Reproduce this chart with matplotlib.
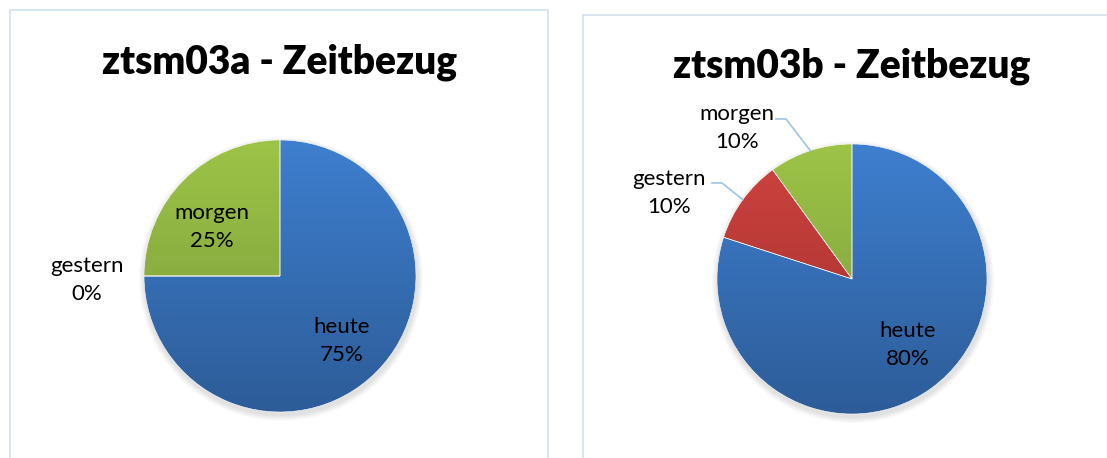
import numpy as np
import matplotlib.pyplot as plt
from matplotlib.patches import Rectangle, Circle
from matplotlib.colors import LinearSegmentedColormap

# data
categories = ['heute', 'gestern', 'morgen']
values_a = [75, 0, 25]
values_b = [80, 10, 10]
titles = ['ztsm03a - Zeitbezug', 'ztsm03b - Zeitbezug']

# colours (top, bottom) for the gradient fill
grad = {
    'heute': ('#3e7fcf', '#2d5c98'),
    'gestern': ('#d0433f', '#9c2f2d'),
    'morgen': ('#9dc447', '#77973a'),
}
leader_col = '#9dc3e6'

plt.rcParams['font.family'] = ['Lato', 'DejaVu Sans']

W, H = 1107, 458
fig = plt.figure(figsize=(W / 100, H / 100), dpi=100)
ax = fig.add_axes([0, 0, 1, 1])
ax.set_xlim(0, W)
ax.set_ylim(0, H)
ax.set_aspect('equal')
ax.axis('off')

# chart frames
ax.add_patch(Rectangle((10, -5), 538, H - 10 + 5, fill=False, ec='#d3e0f0', lw=1.2))
ax.add_patch(Rectangle((583, -5), 540, H - 15 + 5, fill=False, ec='#d3e0f0', lw=1.2))


def draw_pie(values, center, radius, title, title_y):
    cx, cy = center
    # soft shadow
    for k in range(6):
        ax.add_patch(Circle((cx + 1, cy - 3), radius + 6 - k, color='black',
                            alpha=0.018, lw=0, zorder=1))
    wedges, _ = ax.pie(values, startangle=90, counterclock=False,
                       center=center, radius=radius,
                       wedgeprops=dict(lw=0.4, ec='white'),
                       frame=False)
    ax.set_xlim(0, W)
    ax.set_ylim(0, H)
    g = np.linspace(1, 0, 256).reshape(-1, 1)
    for w, cat in zip(wedges, categories):
        top, bot = grad[cat]
        cmap = LinearSegmentedColormap.from_list(cat, [bot, top])
        w.set_facecolor('none')
        w.set_zorder(3)
        im = ax.imshow(g, cmap=cmap, aspect='auto', zorder=2,
                       extent=[cx - radius, cx + radius, cy - radius, cy + radius])
        im.set_clip_path(w)
    ax.text(cx, title_y, title, ha='center', va='center', fontsize=28,
            fontweight='heavy', zorder=5)
    return wedges


def mid_angle(values, i):
    total = sum(values)
    before = sum(values[:i])
    return np.deg2rad(90 - 360 * (before + values[i] / 2) / total)


def label(cat, val, x, y):
    ax.text(x, y, f'{cat}\n{val}%', ha='center', va='center', fontsize=16,
            linespacing=1.55, zorder=6)


# label placement (offset from pie centre, pixels) - Excel "best fit" look
pos_a = {'heute': (62, -65), 'gestern': (-193, -4), 'morgen': (-68, 49)}
pos_b = {'heute': (56, -66), 'gestern': (-183, 86), 'morgen': (-115, 151)}

# left chart
ca, ra = (280, H - 276), 136
draw_pie(values_a, ca, ra, titles[0], H - 62)
for cat, v in zip(categories, values_a):
    dx, dy = pos_a[cat]
    label(cat, v, ca[0] + dx, ca[1] + dy)

# right chart
cb, rb = (852, H - 279), 135
draw_pie(values_b, cb, rb, titles[1], H - 66)
leader_start = {'gestern': (712, H - 183), 'morgen': (776, H - 119)}
for i, (cat, v) in enumerate(zip(categories, values_b)):
    dx, dy = pos_b[cat]
    label(cat, v, cb[0] + dx, cb[1] + dy)
    if cat in leader_start:
        a = mid_angle(values_b, i)
        sx, sy = leader_start[cat]
        ex, ey = cb[0] + rb * np.cos(a), cb[1] + rb * np.sin(a)
        ax.plot([sx, sx + 10, ex], [sy, sy, ey], color=leader_col, lw=1.2, zorder=4)

fig.savefig('out.png', dpi=100, facecolor='white')
